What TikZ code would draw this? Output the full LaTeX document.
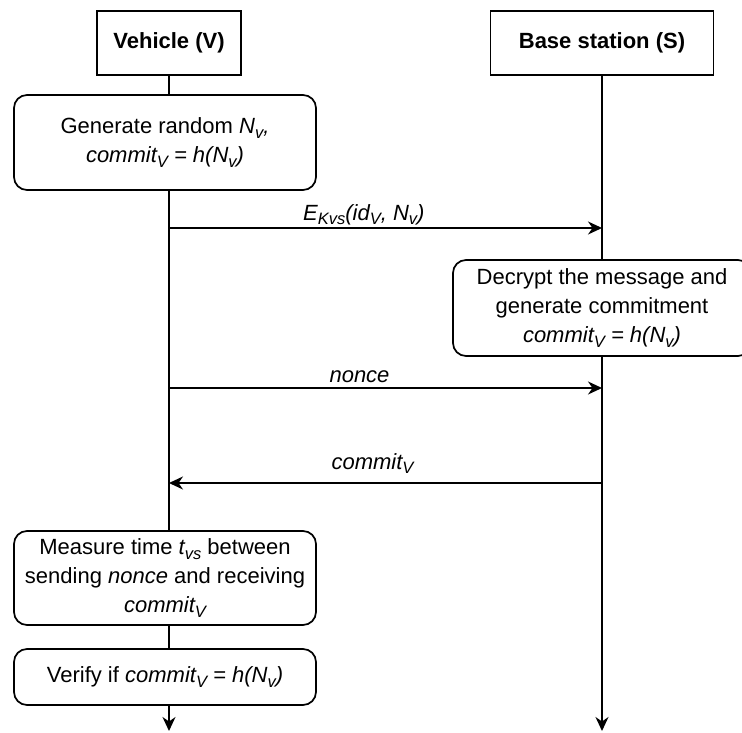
\documentclass[tikz,border=0pt]{standalone}
\usepackage{fontspec}
\setmainfont{Liberation Sans}
\usetikzlibrary{arrows.meta}
% italic subscript, smaller and lowered
\newcommand\lsub[1]{\raisebox{-4.5pt}{\fontsize{16.5}{16.5}\selectfont\itshape #1}}

\begin{document}
\begin{tikzpicture}[x=1pt, y=-1pt, line width=1.7pt,
  font=\fontsize{22}{29}\selectfont,
  actor/.style={draw, fill=white, inner sep=0pt,
    font=\fontsize{22}{29}\selectfont\bfseries},
  stepbox/.style={draw, fill=white, rounded corners=13pt, align=center,
    inner sep=0pt, minimum width=302pt},
  msg/.style={-{Stealth[length=14pt, width=13pt, inset=4.5pt]}},
  lbl/.style={fill=white, inner sep=1pt, anchor=base,
    font=\fontsize{22}{29}\selectfont\itshape}]

\useasboundingbox (0,0) rectangle (742,733);

% participants
\node[actor, minimum width=144pt, minimum height=64pt] (veh) at (169,43) {Vehicle (V)};
\node[actor, minimum width=223pt, minimum height=64pt] (bs) at (602,43) {Base station (S)};

% lifeline end points
\coordinate (vend) at (169,731);
\coordinate (send) at (602,731);

% message anchors on the lifelines
\coordinate (m1v) at (169,228);  \coordinate (m1s) at (602,228);
\coordinate (m2v) at (169,388);  \coordinate (m2s) at (602,388);
\coordinate (m3v) at (169,483);  \coordinate (m3s) at (602,483);

% processing steps
\node[stepbox, minimum height=95pt] (gen) at (165,142.5)
  {Generate random \textit{N\lsub{v},}\\ \textit{commit\lsub{V} = h(N\lsub{v})}};
\node[stepbox, minimum width=298pt, minimum height=96pt] (dec) at (602,308)
  {Decrypt the message and\\ generate commitment\\ \textit{commit\lsub{V} = h(N\lsub{v})}};
\node[stepbox, minimum height=94pt] (meas) at (165,578)
  {Measure time \textit{t\lsub{vs}} between\\ sending \textit{nonce} and receiving\\ \textit{commit\lsub{V}}};
\node[stepbox, minimum height=56pt] (ver) at (165,677)
  {Verify if \textit{commit\lsub{V} = h(N\lsub{v})}};

% vehicle lifeline
\draw (veh.south) -- (veh.south |- gen.north);
\draw (veh.south |- gen.south) -- (veh.south |- meas.north);
\draw (veh.south |- meas.south) -- (veh.south |- ver.north);
\draw[msg] (veh.south |- ver.south) -- (vend);

% base station lifeline
\draw (bs.south) -- (dec.north);
\draw[msg] (dec.south) -- (send);

% messages
\draw[msg] (m1v) -- node[lbl, pos=.45, yshift=8pt] {E\lsub{Kvs}(id\lsub{V}, N\lsub{v})} (m1s);
\draw[msg] (m2v) -- node[lbl, pos=.44, yshift=6pt] {nonce} (m2s);
\draw[msg] (m3s) -- node[lbl, pos=.53, yshift=14pt] {commit\lsub{V}} (m3v);
\end{tikzpicture}
\end{document}
